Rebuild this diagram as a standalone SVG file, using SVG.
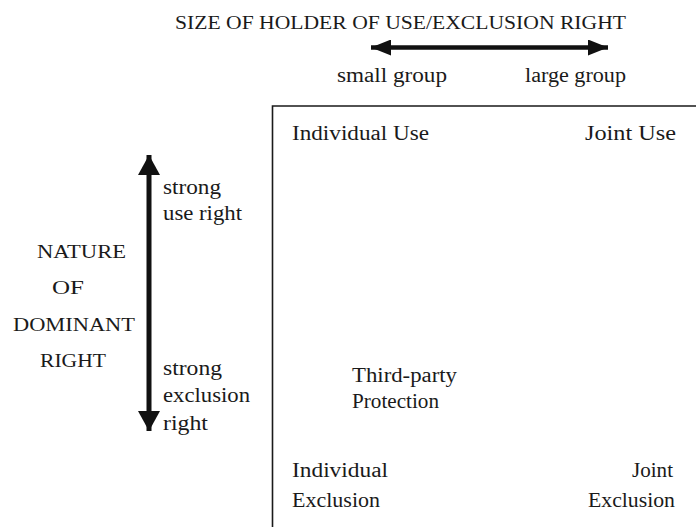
<svg xmlns="http://www.w3.org/2000/svg" width="696" height="527" viewBox="0 0 696 527">
<style>
text{font-family:"Liberation Serif","DejaVu Serif",serif;font-size:20px;fill:#1a1a1a;}
.caps{font-size:19px;}
.frame{fill:none;stroke:#1a1a1a;stroke-width:1.6;}
.arrow{stroke:#111;fill:none;}
</style>
<defs>
<marker id="ahH" markerUnits="userSpaceOnUse" markerWidth="22" markerHeight="16" refX="20" refY="8" orient="auto-start-reverse">
<path d="M0,0 L20,8 L0,16 Z" fill="#111"/>
</marker>
<marker id="ahV" markerUnits="userSpaceOnUse" markerWidth="22" markerHeight="24" refX="20" refY="11" orient="auto-start-reverse">
<path d="M0,0 L20,11 L0,22 Z" fill="#111"/>
</marker>
</defs>
<rect width="696" height="527" fill="#ffffff"/>

<g id="frame">
<path class="frame" d="M272.5,527 L272.5,106 L696,106"/>
</g>

<g id="connectors">
<path class="arrow" stroke-width="4.5" d="M371,47.5 L608,47.5" marker-start="url(#ahH)" marker-end="url(#ahH)"/>
<path class="arrow" stroke-width="5" d="M149,155 L149,431" marker-start="url(#ahV)" marker-end="url(#ahV)"/>
</g>

<g id="title-horizontal">
<text class="caps" x="175" y="29" textLength="451" lengthAdjust="spacingAndGlyphs">SIZE OF HOLDER OF USE/EXCLUSION RIGHT</text>
</g>
<g id="label-small-group">
<text x="337" y="82" textLength="110" lengthAdjust="spacingAndGlyphs">small group</text>
</g>
<g id="label-large-group">
<text x="525" y="82" textLength="101" lengthAdjust="spacingAndGlyphs">large group</text>
</g>

<g id="title-vertical">
<text class="caps" x="37" y="258" textLength="89" lengthAdjust="spacingAndGlyphs">NATURE</text>
<text class="caps" x="52" y="294" textLength="32" lengthAdjust="spacingAndGlyphs">OF</text>
<text class="caps" x="13" y="331" textLength="122" lengthAdjust="spacingAndGlyphs">DOMINANT</text>
<text class="caps" x="40" y="367" textLength="66" lengthAdjust="spacingAndGlyphs">RIGHT</text>
</g>
<g id="label-strong-use">
<text x="163" y="194" textLength="58" lengthAdjust="spacingAndGlyphs">strong</text>
<text x="163" y="220" textLength="79" lengthAdjust="spacingAndGlyphs">use right</text>
</g>
<g id="label-strong-exclusion">
<text x="163" y="375" textLength="59" lengthAdjust="spacingAndGlyphs">strong</text>
<text x="163" y="402" textLength="87" lengthAdjust="spacingAndGlyphs">exclusion</text>
<text x="163" y="430" textLength="45" lengthAdjust="spacingAndGlyphs">right</text>
</g>

<g id="node-individual-use">
<text x="292" y="140" textLength="137" lengthAdjust="spacingAndGlyphs">Individual Use</text>
</g>
<g id="node-joint-use">
<text x="585" y="140" textLength="91" lengthAdjust="spacingAndGlyphs">Joint Use</text>
</g>
<g id="node-third-party">
<text x="352" y="382" textLength="105" lengthAdjust="spacingAndGlyphs">Third-party</text>
<text x="352" y="408" textLength="87" lengthAdjust="spacingAndGlyphs">Protection</text>
</g>
<g id="node-individual-exclusion">
<text x="292" y="477" textLength="96" lengthAdjust="spacingAndGlyphs">Individual</text>
<text x="292" y="507" textLength="88" lengthAdjust="spacingAndGlyphs">Exclusion</text>
</g>
<g id="node-joint-exclusion">
<text x="632" y="477" textLength="41" lengthAdjust="spacingAndGlyphs">Joint</text>
<text x="588" y="507" textLength="87" lengthAdjust="spacingAndGlyphs">Exclusion</text>
</g>
</svg>
